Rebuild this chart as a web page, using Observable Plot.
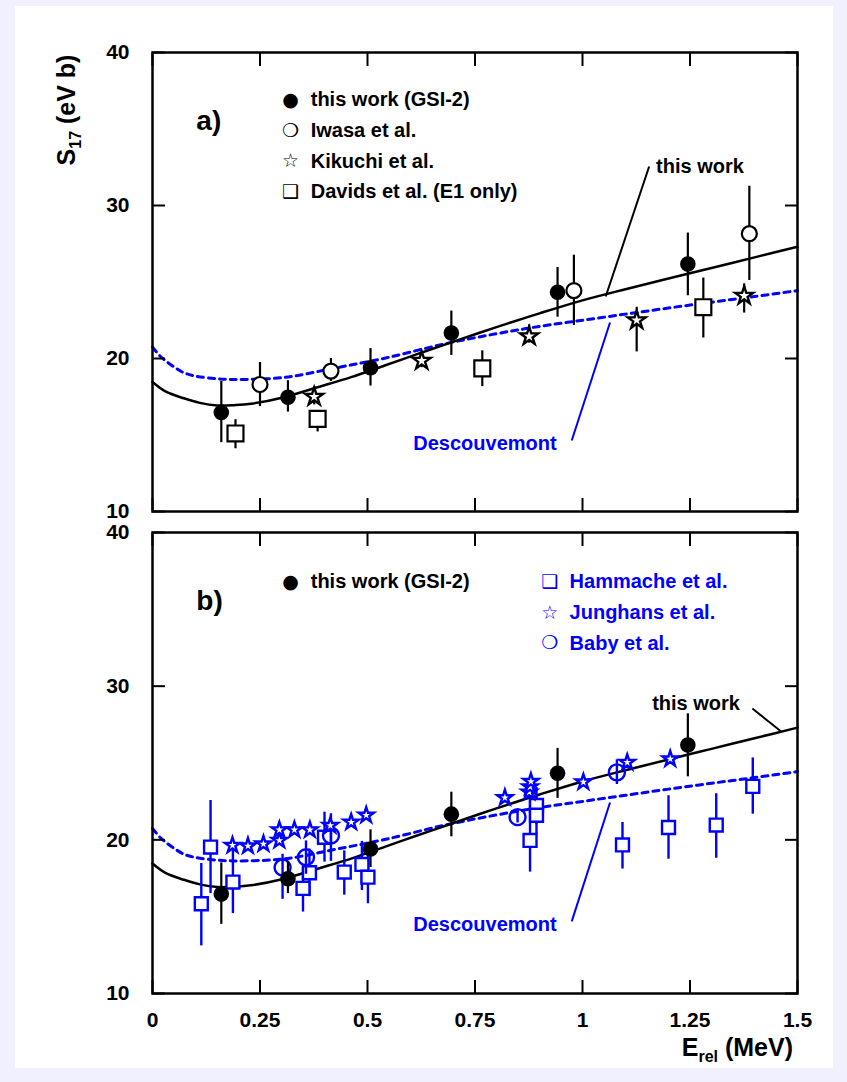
<!DOCTYPE html>
<html>
<head>
<meta charset="utf-8">
<script src="https://cdn.jsdelivr.net/npm/d3@7"></script>
<script src="https://cdn.jsdelivr.net/npm/@observablehq/plot@0.6"></script>
<style>
html,body{margin:0;padding:0;background:#f0f0fe;}
#page{position:relative;width:847px;height:1082px;overflow:hidden;}
#sheet{position:absolute;left:15px;top:6px;width:818px;height:1062px;background:#fff;}
#pa,#pb{position:absolute;left:0;}
#pa{top:0;} #pb{top:520px;}
svg{overflow:visible;}
</style>
</head>
<body>
<div id="page"><div id="sheet"></div><div id="pa"></div><div id="pb"></div></div>
<script>
// ---------- axis ticks ----------
const xTicks = [0, 0.25, 0.5, 0.75, 1, 1.25, 1.5];
const xTickLabels = ["0", "0.25", "0.5", "0.75", "1", "1.25", "1.5"];
const yTicks = [10, 20, 30, 40];

// ---------- curves ----------
const thisWorkE = [0, 0.03, 0.073, 0.11, 0.151, 0.19, 0.229, 0.306, 0.384, 0.462, 0.54, 0.617, 0.695, 0.8, 0.9, 1.0, 1.1, 1.2, 1.3, 1.4, 1.5];
const thisWorkS = [18.46, 17.85, 17.4, 17.1, 16.93, 16.95, 17.04, 17.47, 18.12, 18.78, 19.54, 20.3, 21.05, 22.05, 22.95, 23.8, 24.53, 25.23, 25.92, 26.61, 27.3];
const descE = [0, 0.02, 0.05, 0.073, 0.1, 0.15, 0.19, 0.306, 0.423, 0.54, 0.68, 0.8, 0.9, 1.0, 1.1, 1.2, 1.3, 1.4, 1.5];
const descS = [20.74, 20.1, 19.45, 19.07, 18.85, 18.68, 18.63, 18.76, 19.37, 20.02, 20.96, 21.62, 22.1, 22.5, 22.9, 23.3, 23.68, 24.05, 24.44];

// ---------- this work (GSI-2) ----------
const gsiE  = [0.160, 0.315, 0.507, 0.695, 0.942, 1.245];
const gsiS  = [16.47, 17.47, 19.40, 21.67, 24.33, 26.17];
const gsiLo = [14.5, 16.5, 18.2, 20.2, 22.7, 24.1];
const gsiHi = [18.5, 18.55, 20.65, 23.1, 25.95, 28.2];

// ---------- panel a: Iwasa, Kikuchi, Davids ----------
const iwasaE  = [0.25, 0.415, 0.98, 1.388];
const iwasaS  = [18.3, 19.18, 24.44, 28.16];
const iwasaLo = [16.86, 18.5, 22.16, 25.1];
const iwasaHi = [19.74, 20.0, 26.75, 31.26];

const kikuchiE  = [0.376, 0.626, 0.876, 1.126, 1.376];
const kikuchiS  = [17.5, 19.85, 21.45, 22.5, 24.1];
const kikuchiLo = [16.97, 19.4, 21.0, 20.43, 22.97];
const kikuchiHi = [18.16, 20.3, 22.2, 23.35, 24.87];

const davidsE  = [0.193, 0.384, 0.767, 1.281];
const davidsS  = [15.1, 16.05, 19.35, 23.35];
const davidsLo = [14.1, 15.2, 18.16, 21.34];
const davidsHi = [16.0, 16.6, 20.5, 25.26];

// ---------- panel b: Hammache, Junghans, Baby ----------
const hamE  = [0.1135, 0.135, 0.187, 0.35, 0.365, 0.40, 0.446, 0.487, 0.501, 0.878, 0.893, 0.893, 1.093, 1.2, 1.311, 1.396];
const hamS  = [15.84, 19.53, 17.25, 16.84, 17.86, 20.17, 17.9, 18.4, 17.57, 19.96, 22.24, 21.6, 19.67, 20.8, 20.96, 23.48];
const hamLo = [13.1, 16.5, 15.2, 15.3, 16.3, 18.55, 16.4, 16.7, 15.84, 17.9, 21.0, 20.3, 18.1, 18.74, 18.8, 21.67];
const hamHi = [18.46, 22.56, 19.3, 18.22, 19.4, 21.8, 19.28, 19.9, 19.3, 24.0, 23.4, 22.9, 21.13, 22.87, 23.0, 25.33];

const jungE = [0.186, 0.222, 0.258, 0.295, 0.295, 0.33, 0.366, 0.4136, 0.462, 0.497, 0.8195, 0.876, 0.878, 0.88, 1.002, 1.104, 1.204];
const jungS = [19.64, 19.6, 19.73, 19.96, 20.65, 20.65, 20.65, 20.93, 21.15, 21.6, 22.74, 23.1, 23.45, 23.8, 23.76, 25.04, 25.26];

const babyE  = [0.3025, 0.357, 0.415, 0.849, 1.08];
const babyS  = [18.2, 18.87, 20.28, 21.48, 24.39];
const babyLo = [16.13, 17.76, 18.6, 21.1, 23.6];
const babyHi = [19.06, 19.93, 21.7, 21.9, 25.2];

// ---------- text ----------
const legendA = ["this work (GSI-2)", "Iwasa et al.", "Kikuchi et al.", "Davids et al. (E1 only)"];
const legendAGlyphs = ["\u25CF", "\u274D", "\u2606", "\u2751"];
const legendBBlack = ["this work (GSI-2)"];
const legendBBlue = ["Hammache et al.", "Junghans et al.", "Baby et al."];
const legendBGlyphs = ["\u2751", "\u2606", "\u274D"];

// ---------- layout (data coordinates of annotations) ----------
const L = {
  legX: 0.321, legTextX: 0.368, legRowsA: [36.9, 34.9, 32.9, 30.9],
  legBlueX: 0.924, legBlueTextX: 0.970, legRowsB: [36.8, 34.8, 32.8],
  letterX: 0.102, letterY: 35.55,
  twA: {tx: 1.171, ty: 32.55, x1: 1.155, y1: 32.55, x2: 1.054, y2: 24.05},
  twB: {tx: 1.162, ty: 28.87, x1: 1.395, y1: 28.55, x2: 1.462, y2: 27.05},
  dsA: {tx: 0.6065, ty: 14.44, x1: 0.975, y1: 14.64, x2: 1.064, y2: 22.35},
  dsB: {tx: 0.6065, ty: 14.5, x1: 0.975, y1: 14.69, x2: 1.064, y2: 22.43}
};

const FONT = "'Liberation Sans', Arial, Helvetica, sans-serif";
const SYMFONT = "'DejaVu Sans', sans-serif";
const BLUE = "#0000ff";

const rows = (E, S, lo, hi) => E.map((e, i) => ({E: e, S: S[i], lo: lo ? lo[i] : S[i], hi: hi ? hi[i] : S[i]}));
const curveThis = rows(thisWorkE, thisWorkS);
const curveDesc = rows(descE, descS);
const gsi = rows(gsiE, gsiS, gsiLo, gsiHi);

function axes(withXLabels) {
  const txt = {fontSize: 21, fontWeight: "bold", fontFamily: FONT, label: null};
  const tk = {tickSize: -13, tickFormat: () => "", label: null, strokeWidth: 2};
  const m = [
    Plot.axisY(yTicks, {anchor: "left", tickSize: 0, tickPadding: 23, ...txt}),
    Plot.axisY(yTicks, {anchor: "left", ...tk}),
    Plot.axisY(yTicks, {anchor: "right", ...tk}),
    Plot.axisX(xTicks, {anchor: "top", ...tk}),
    Plot.axisX(xTicks, {anchor: "bottom", ...tk})
  ];
  if (withXLabels) m.push(Plot.axisX(xTicks, {anchor: "bottom", tickSize: 0, tickPadding: 19,
    tickFormat: d => xTickLabels[xTicks.indexOf(d)], ...txt}));
  return m;
}

function curves() {
  return [
    Plot.line(curveDesc, {x: "E", y: "S", stroke: BLUE, strokeWidth: 3, strokeDasharray: "6,5", curve: "catmull-rom"}),
    Plot.line(curveThis, {x: "E", y: "S", stroke: "black", strokeWidth: 2.5, curve: "catmull-rom"})
  ];
}

function annotations(letter, tw, ds) {
  return [
    Plot.link([tw], {x1: "x1", y1: "y1", x2: "x2", y2: "y2", stroke: "black", strokeWidth: 2}),
    Plot.link([ds], {x1: "x1", y1: "y1", x2: "x2", y2: "y2", stroke: BLUE, strokeWidth: 2}),
    Plot.text(["this work"], {x: [tw.tx], y: [tw.ty], text: d => d, textAnchor: "start", fontSize: 20, fontWeight: "bold", fontFamily: FONT, fill: "black"}),
    Plot.text(["Descouvemont"], {x: [ds.tx], y: [ds.ty], text: d => d, textAnchor: "start", fontSize: 20, fontWeight: "bold", fontFamily: FONT, fill: BLUE}),
    Plot.text([letter], {x: [L.letterX], y: [L.letterY], text: d => d, textAnchor: "start", fontSize: 28, fontWeight: "bold", fontFamily: FONT, fill: "black"})
  ];
}

function gsiMarks() {
  return [
    Plot.ruleX(gsi, {x: "E", y1: "lo", y2: "hi", stroke: "black", strokeWidth: 2.2}),
    Plot.dot(gsi, {x: "E", y: "S", r: 7.8, fill: "black", stroke: "none"})
  ];
}

const base = {
  width: 847, marginLeft: 152, marginRight: 50,
  x: {domain: [0, 1.5], axis: null},
  y: {domain: [10, 40], axis: null},
  style: {background: "transparent", fontFamily: FONT, overflow: "visible"}
};

// ---------- panel a ----------
const iwasa = rows(iwasaE, iwasaS, iwasaLo, iwasaHi);
const kikuchi = rows(kikuchiE, kikuchiS, kikuchiLo, kikuchiHi);
const davids = rows(davidsE, davidsS, davidsLo, davidsHi);

const plotA = Plot.plot({
  ...base, height: 520, marginTop: 52, marginBottom: 9,
  marks: [
    ...curves(),
    Plot.ruleX(davids, {x: "E", y1: "lo", y2: "hi", stroke: "black", strokeWidth: 2.2}),
    Plot.dot(davids, {x: "E", y: "S", symbol: "square", r: 9, fill: "white", stroke: "black", strokeWidth: 2.2}),
    Plot.ruleX(kikuchi, {x: "E", y1: "lo", y2: "hi", stroke: "black", strokeWidth: 2.2}),
    Plot.dot(kikuchi, {x: "E", y: "S", symbol: "star", r: 5.6, fill: "white", stroke: "black", strokeWidth: 2.4}),
    Plot.ruleX(iwasa, {x: "E", y1: "lo", y2: "hi", stroke: "black", strokeWidth: 2.2}),
    Plot.dot(iwasa, {x: "E", y: "S", r: 7.5, fill: "white", stroke: "black", strokeWidth: 2.2}),
    ...gsiMarks(),
    ...annotations("a)", L.twA, L.dsA),
    Plot.text(legendAGlyphs, {x: L.legX, y: (d, i) => L.legRowsA[i], text: d => d, fontFamily: SYMFONT, fontSize: 19, fill: "black"}),
    Plot.text(legendA, {x: L.legTextX, y: (d, i) => L.legRowsA[i], text: d => d, textAnchor: "start", fontSize: 20, fontWeight: "bold", fontFamily: FONT, fill: "black"}),
    Plot.frame({stroke: "black", strokeWidth: 2.5}),
    ...axes(false)
  ]
});
document.getElementById("pa").appendChild(plotA);

// y-axis title with subscript
const yl = d3.select(plotA).append("text")
  .attr("transform", "translate(75,110) rotate(-90)")
  .attr("text-anchor", "middle")
  .attr("fill", "black")
  .style("font", `bold 25px ${FONT}`);
yl.append("tspan").text("S");
yl.append("tspan").attr("font-size", 16).attr("dy", 6).text("17");
yl.append("tspan").attr("dy", -6).text(" (eV b)");

// ---------- panel b ----------
const ham = rows(hamE, hamS, hamLo, hamHi);
const jung = rows(jungE, jungS);
const baby = rows(babyE, babyS, babyLo, babyHi);

const plotB = Plot.plot({
  ...base, height: 562, marginTop: 12, marginBottom: 89,
  marks: [
    ...curves(),
    Plot.ruleX(ham, {x: "E", y1: "lo", y2: "hi", stroke: BLUE, strokeWidth: 2.4}),
    Plot.dot(ham, {x: "E", y: "S", symbol: "square", r: 7.3, fill: "white", stroke: BLUE, strokeWidth: 2.4}),
    Plot.ruleX(baby, {x: "E", y1: "lo", y2: "hi", stroke: BLUE, strokeWidth: 2.4}),
    Plot.dot(baby, {x: "E", y: "S", r: 8, fill: "none", stroke: BLUE, strokeWidth: 2.4}),
    Plot.dot(jung, {x: "E", y: "S", symbol: "star", r: 4.8, fill: "white", stroke: BLUE, strokeWidth: 2.4}),
    ...gsiMarks(),
    ...annotations("b)", L.twB, L.dsB),
    Plot.text(["\u25CF"], {x: L.legX, y: L.legRowsB[0], text: d => d, fontFamily: SYMFONT, fontSize: 19, fill: "black"}),
    Plot.text(legendBBlack, {x: L.legTextX, y: L.legRowsB[0], text: d => d, textAnchor: "start", fontSize: 20, fontWeight: "bold", fontFamily: FONT, fill: "black"}),
    Plot.text(legendBGlyphs, {x: L.legBlueX, y: (d, i) => L.legRowsB[i], text: d => d, fontFamily: SYMFONT, fontSize: 19, fill: BLUE}),
    Plot.text(legendBBlue, {x: L.legBlueTextX, y: (d, i) => L.legRowsB[i], text: d => d, textAnchor: "start", fontSize: 20, fontWeight: "bold", fontFamily: FONT, fill: BLUE}),
    Plot.frame({stroke: "black", strokeWidth: 2.5}),
    ...axes(true)
  ]
});
document.getElementById("pb").appendChild(plotB);

// x-axis title with subscript
const xl = d3.select(plotB).append("text")
  .attr("x", 793).attr("y", 536)
  .attr("text-anchor", "end")
  .attr("fill", "black")
  .style("font", `bold 25px ${FONT}`);
xl.append("tspan").text("E");
xl.append("tspan").attr("font-size", 16).attr("dy", 6).text("rel");
xl.append("tspan").attr("dy", -6).text(" (MeV)");
</script>
</body>
</html>
